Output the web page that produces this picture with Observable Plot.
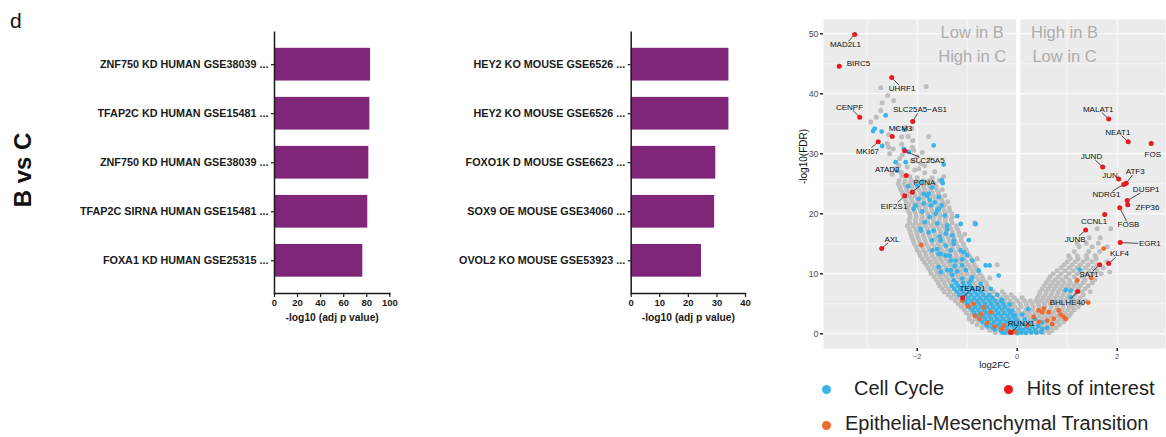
<!DOCTYPE html>
<html>
<head>
<meta charset="utf-8">
<script src="https://cdn.jsdelivr.net/npm/d3@7"></script>
<script src="https://cdn.jsdelivr.net/npm/@observablehq/plot@0.6"></script>
<style>
  body { margin: 0; background: #fff; font-family: "Liberation Sans", Arial, sans-serif; }
  #fig { position: relative; width: 1166px; height: 437px; overflow: hidden; background: #fff; }
  #fig > svg, #fig > div { position: absolute; }
  .panel-letter { left: 10px; top: 9.5px; font-size: 21px; line-height: 21px; color: #111; }
  .row-title { left: 23px; top: 169.5px; font-size: 24px; line-height: 24px; font-weight: bold; color: #111;
               transform: translate(-50%, -50%) rotate(-90deg); white-space: nowrap; }
  .key-dot { width: 9px; height: 9px; border-radius: 50%; }
  .key-text { font-size: 20px; line-height: 20px; color: #222; white-space: nowrap; }
</style>
</head>
<body>
<div id="fig"></div>
<script>
// ---------- Enrichment bar charts (B vs C) ----------
const humanSets = [
  "ZNF750 KD HUMAN GSE38039 ...",
  "TFAP2C KD HUMAN GSE15481 ...",
  "ZNF750 KD HUMAN GSE38039 ...",
  "TFAP2C SIRNA HUMAN GSE15481 ...",
  "FOXA1 KD HUMAN GSE25315 ..."
];
const humanScores = [83.3, 82.7, 81.8, 80.9, 76.6];
const humanTicks = [0, 20, 40, 60, 80, 100];

const mouseSets = [
  "HEY2 KO MOUSE GSE6526 ...",
  "HEY2 KO MOUSE GSE6526 ...",
  "FOXO1K D MOUSE GSE6623 ...",
  "SOX9 OE MOUSE GSE34060 ...",
  "OVOL2 KO MOUSE GSE53923 ..."
];
const mouseScores = [34.2, 34.2, 29.6, 29.2, 24.6];
const mouseTicks = [0, 10, 20, 30, 40];

const barTitle = "-log10 (adj p value)";

// ---------- Volcano plot (log2FC vs -log10 FDR) ----------
// Background genes, listed row by row as [-log10 FDR, log2FC, log2FC, ...]
const grayRowsLeft = [
  [0.2, -0.44, -0.32, -0.2, -0.08, 0.04, 0.14],
  [0.6, -0.54, -0.42, -0.3, -0.18, -0.06, 0.06],
  [1.0, -0.7, -0.58, -0.46, -0.34, -0.22, -0.1, 0.02],
  [1.5, -0.8, -0.68, -0.56, -0.44, -0.32, -0.2, -0.08, 0.04],
  [2.0, -0.9, -0.78, -0.66, -0.54, -0.42, -0.3, -0.18, -0.04],
  [2.5, -0.96, -0.84, -0.72, -0.6, -0.48, -0.36, -0.24, -0.1, 0.02],
  [3.0, -0.96, -0.84, -0.72, -0.6, -0.48, -0.36, -0.24, -0.12, 0.0, 0.1],
  [3.5, -1.02, -0.9, -0.78, -0.66, -0.54, -0.42, -0.3, -0.18, -0.06, 0.04, 0.14],
  [4.0, -1.06, -0.94, -0.82, -0.7, -0.58, -0.46, -0.34, -0.22, -0.1, 0.02],
  [4.5, -1.12, -1.0, -0.88, -0.76, -0.64, -0.52, -0.4, -0.28, -0.14, -0.05, 0.08, 0.2],
  [5.0, -1.18, -1.06, -0.94, -0.82, -0.7, -0.58, -0.46, -0.34, -0.2, -0.08, 0.05, 0.18],
  [5.5, -1.24, -1.12, -1.0, -0.88, -0.76, -0.64, -0.52, -0.4, -0.26, -0.14, 0.0, 0.14, 0.26],
  [6.0, -1.32, -1.2, -1.08, -0.96, -0.84, -0.72, -0.6, -0.48, -0.34, -0.2, -0.06, 0.1],
  [6.5, -1.38, -1.26, -1.14, -1.02, -0.9, -0.78, -0.66, -0.54, -0.4, -0.25, -0.12],
  [7.0, -1.46, -1.34, -1.22, -1.1, -0.98, -0.86, -0.74, -0.62, -0.48, -0.3],
  [7.5, -1.5, -1.38, -1.26, -1.14, -1.02, -0.9, -0.78, -0.66, -0.55],
  [8.0, -1.55, -1.43, -1.31, -1.19, -1.07, -0.95, -0.83, -0.71, -0.6],
  [8.5, -1.58, -1.46, -1.34, -1.22, -1.1, -0.98, -0.86, -0.74, -0.62],
  [9.0, -1.62, -1.5, -1.38, -1.26, -1.14, -1.02, -0.9, -0.78, -0.68],
  [9.5, -1.66, -1.54, -1.42, -1.3, -1.18, -1.06, -0.94, -0.82, -0.7],
  [10.0, -1.72, -1.6, -1.48, -1.36, -1.24, -1.12, -1.0, -0.88, -0.75],
  [10.5, -1.74, -1.62, -1.5, -1.38, -1.26, -1.14, -1.02, -0.9, -0.8],
  [11.0, -1.78, -1.66, -1.54, -1.42, -1.3, -1.18, -1.06, -0.94, -0.82],
  [11.5, -1.82, -1.7, -1.58, -1.46, -1.34, -1.22, -1.1, -0.98, -0.86, -0.4],
  [12.0, -1.86, -1.74, -1.62, -1.5, -1.38, -1.26, -1.14, -1.02, -0.88],
  [12.5, -1.9, -1.78, -1.66, -1.54, -1.42, -1.3, -1.18, -1.06, -0.92, -0.8],
  [13.0, -1.94, -1.82, -1.7, -1.58, -1.46, -1.34, -1.22, -1.1, -0.96],
  [13.5, -1.96, -1.84, -1.72, -1.6, -1.48, -1.36, -1.24, -1.12, -1.0],
  [14.0, -2.0, -1.88, -1.76, -1.64, -1.52, -1.4, -1.28, -1.16, -1.02],
  [14.5, -2.02, -1.9, -1.78, -1.66, -1.54, -1.42, -1.3, -1.18, -1.06],
  [15.0, -2.06, -1.94, -1.82, -1.7, -1.58, -1.46, -1.34, -1.22, -1.08],
  [15.5, -2.08, -1.96, -1.84, -1.72, -1.6, -1.48, -1.36, -1.24, -1.12],
  [16.0, -2.1, -1.98, -1.86, -1.74, -1.62, -1.5, -1.38, -1.26, -1.12],
  [16.5, -2.12, -2.0, -1.88, -1.76, -1.64, -1.52, -1.4, -1.28, -1.16],
  [17.0, -2.14, -2.02, -1.9, -1.78, -1.66, -1.54, -1.42, -1.3, -1.17],
  [17.5, -2.16, -2.04, -1.92, -1.8, -1.68, -1.56, -1.44, -1.32, -1.2],
  [18.0, -2.2, -2.08, -1.96, -1.84, -1.72, -1.6, -1.48, -1.36, -1.22],
  [18.5, -2.15, -2.03, -1.91, -1.79, -1.67, -1.55, -1.43, -1.3, -0.85],
  [19.0, -2.16, -2.04, -1.92, -1.8, -1.68, -1.56, -1.44, -1.32],
  [19.5, -2.14, -2.02, -1.9, -1.78, -1.66, -1.54, -1.42, -1.3],
  [20.0, -2.15, -2.03, -1.91, -1.79, -1.67, -1.55, -1.43, -1.31],
  [20.5, -2.18, -2.06, -1.94, -1.82, -1.7, -1.58, -1.46, -1.35],
  [21.0, -2.2, -2.08, -1.96, -1.84, -1.72, -1.6, -1.48, -1.36],
  [21.5, -2.17, -2.05, -1.93, -1.81, -1.69, -1.57, -1.45],
  [22.0, -2.22, -2.1, -1.98, -1.86, -1.74, -1.62, -1.5, -1.39],
  [22.5, -2.24, -2.12, -2.0, -1.88, -1.76, -1.64, -1.52],
  [23.0, -2.28, -2.16, -2.04, -1.92, -1.8, -1.68, -1.56, -1.45],
  [23.5, -2.3, -2.18, -2.06, -1.94, -1.82, -1.7, -1.58],
  [24.0, -2.33, -2.21, -2.09, -1.97, -1.85, -1.73, -1.61, -1.5],
  [24.5, -2.35, -2.23, -2.11, -1.99, -1.87, -1.75, -1.62],
  [25.0, -2.38, -2.26, -2.14, -2.02, -1.9, -1.78, -1.66],
  [25.5, -2.36, -2.24, -2.12, -2.0, -1.88, -1.76, -1.56]
];
const grayUpperLeft = [
  [-2.73, 41.0], [-1.82, 41.2], [-2.59, 39.7], [-2.7, 38.5], [-2.47, 38.9], [-2.73, 37.2],
  [-2.82, 36.1], [-2.93, 35.3], [-2.23, 34.4], [-2.11, 34.2], [-2.4, 34.2], [-2.57, 33.2],
  [-2.31, 32.8], [-2.18, 32.9], [-1.77, 32.9], [-2.09, 32.2], [-2.6, 31.7], [-2.31, 31.6],
  [-2.48, 30.8], [-2.1, 31.1], [-2.57, 31.1], [-2.07, 30.6], [-1.9, 30.2], [-2.55, 30.0],
  [-2.3, 29.8], [-2.0, 29.5], [-1.75, 29.0], [-2.1, 28.8], [-2.35, 29.2], [-1.93, 28.4],
  [-2.37, 28.05], [-1.85, 28.0], [-2.2, 27.8], [-1.97, 27.5], [-2.45, 27.5], [-2.05, 27.3],
  [-1.65, 27.0], [-2.32, 26.9], [-1.85, 26.8], [-2.5, 26.6], [-1.47, 26.2], [-2.15, 26.2],
  [-2.3, 26.3], [-1.7, 26.0], [-2.0, 26.0]
];
const grayRowsRight = [
  [0.2, 0.16, 0.28, 0.4, 0.52, 0.64],
  [0.6, 0.1, 0.22, 0.34, 0.46, 0.58, 0.7],
  [1.0, 0.06, 0.18, 0.3, 0.42, 0.54, 0.66, 0.78],
  [1.5, 0.12, 0.24, 0.36, 0.48, 0.6, 0.72, 0.84],
  [2.0, 0.08, 0.2, 0.32, 0.44, 0.56, 0.68, 0.8, 0.93],
  [2.5, 0.14, 0.26, 0.38, 0.5, 0.62, 0.74, 0.86, 0.98],
  [3.0, 0.2, 0.32, 0.44, 0.56, 0.68, 0.8, 0.92, 1.04],
  [3.5, 0.24, 0.36, 0.48, 0.6, 0.72, 0.84, 0.96, 1.08],
  [4.0, 0.18, 0.3, 0.42, 0.54, 0.66, 0.78, 0.9, 1.02, 1.14],
  [4.5, 0.32, 0.44, 0.56, 0.68, 0.8, 0.92, 1.04, 1.1, 1.22],
  [5.0, 0.3, 0.42, 0.54, 0.66, 0.78, 0.9, 1.02, 1.14, 1.28],
  [5.5, 0.38, 0.48, 0.6, 0.72, 0.84, 0.96, 1.08, 1.2, 1.36],
  [6.0, 0.4, 0.52, 0.64, 0.76, 0.88, 1.0, 1.12, 1.26],
  [6.5, 0.44, 0.56, 0.68, 0.8, 0.92, 1.04, 1.16, 1.32],
  [7.0, 0.46, 0.58, 0.7, 0.82, 0.94, 1.06, 1.18, 1.3, 1.46],
  [7.5, 0.5, 0.62, 0.74, 0.86, 0.98, 1.1, 1.22, 1.36],
  [8.0, 0.54, 0.66, 0.78, 0.9, 1.02, 1.14, 1.26, 1.42],
  [8.5, 0.58, 0.7, 0.82, 0.94, 1.06, 1.18, 1.32, 1.5],
  [9.0, 0.62, 0.76, 0.9, 1.04, 1.2, 1.36, 1.55],
  [9.5, 0.66, 0.82, 0.98, 1.14, 1.3, 1.46],
  [10.0, 0.72, 0.88, 1.04, 1.2, 1.36, 1.52, 1.68],
  [10.5, 0.8, 0.96, 1.12, 1.28, 1.44, 1.6],
  [11.0, 0.88, 1.04, 1.2, 1.36, 1.52, 1.72],
  [11.5, 0.94, 1.1, 1.26, 1.42, 1.6],
  [12.0, 1.0, 1.16, 1.32, 1.5, 1.8],
  [12.5, 1.06, 1.22, 1.4, 1.58],
  [13.0, 1.03, 1.2, 1.38, 1.56],
  [13.7, 1.14, 1.43, 1.65],
  [14.5, 1.24, 1.5, 1.8],
  [15.1, 1.2, 1.38, 1.62],
  [16.0, 1.44, 1.66],
  [17.5, 1.6, 1.87]
];
const grayOutliers = [[-0.8, 12.5], [-0.85, 18.3], [-0.55, 9.3], [-1.05, 16.6], [1.85, 10.3]];

// Cell-cycle genes: dense block in the lower left arm, listed row by row, then scattered genes
const cellCycleRows = [
  [1.5, -0.62, -0.5, -0.38, -0.26, -0.14, -0.02],
  [2.0, -0.7, -0.58, -0.46, -0.34, -0.22, -0.1],
  [2.5, -0.76, -0.64, -0.52, -0.4, -0.28, -0.16, -0.04],
  [3.0, -0.8, -0.68, -0.56, -0.44, -0.32, -0.2, -0.08],
  [3.5, -0.86, -0.74, -0.62, -0.5, -0.38, -0.26, -0.14],
  [4.0, -0.9, -0.78, -0.66, -0.54, -0.42, -0.3, -0.18],
  [4.5, -0.96, -0.84, -0.72, -0.6, -0.48, -0.36, -0.24],
  [5.0, -1.0, -0.88, -0.76, -0.64, -0.52, -0.4, -0.28],
  [5.5, -1.04, -0.92, -0.8, -0.68, -0.56, -0.44, -0.32],
  [6.0, -1.1, -0.98, -0.86, -0.74, -0.62, -0.5],
  [6.5, -1.16, -1.04, -0.92, -0.8, -0.68, -0.56],
  [7.0, -1.2, -1.08, -0.96, -0.84, -0.72],
  [7.5, -1.26, -1.14, -1.02, -0.9, -0.78],
  [8.0, -1.3, -1.18, -1.06, -0.94],
  [8.5, -1.22, -1.08, -0.96]
];
const cellCycle = [
  [-2.63, 36.4], [-2.88, 33.8], [-2.85, 34.2], [-2.71, 33.7], [-2.25, 34.0], [-1.67, 31.4],
  [-2.7, 31.3], [-2.27, 30.8], [-2.17, 30.3], [-2.43, 28.6], [-2.23, 28.6], [-1.47, 28.2],
  [-2.4, 27.2], [-1.49, 25.1], [-2.18, 24.6], [-2.0, 24.7], [-1.7, 24.4], [-1.9, 25.3],
  [-1.51, 25.6], [-1.87, 23.3], [-2.1, 23.6], [-1.8, 23.0], [-1.97, 22.5], [-1.75, 22.3],
  [-1.77, 23.3], [-1.57, 22.8], [-2.03, 21.4], [-1.73, 21.4], [-1.57, 20.8], [-1.63, 20.0],
  [-1.87, 21.7], [-1.51, 21.4], [-1.65, 21.9], [-1.6, 20.6], [-1.9, 20.4], [-2.07, 20.8],
  [-1.75, 19.5], [-1.45, 19.7], [-1.2, 19.6], [-1.6, 18.4], [-1.85, 18.6], [-1.13, 18.3],
  [-1.4, 18.05], [-1.93, 17.5], [-1.77, 16.9], [-1.43, 16.7], [-1.53, 15.55], [-1.27, 15.55],
  [-0.83, 18.3], [-1.7, 13.9], [-1.57, 13.3], [-1.43, 13.05], [-1.33, 13.9], [-1.23, 12.2],
  [-1.07, 13.6], [-1.0, 13.1], [-1.1, 11.4], [-0.9, 12.2], [-1.33, 10.55], [-0.77, 10.55],
  [-0.63, 11.4], [-1.53, 10.3], [-0.93, 8.9],
  [-1.67, 17.2], [-1.4, 17.4], [-1.93, 17.2], [-1.55, 16.2], [-1.3, 16.4], [-1.7, 15.6],
  [-0.97, 15.6], [-1.43, 14.7], [-1.27, 15.0], [-1.13, 13.9], [-1.6, 14.1], [-1.53, 13.3],
  [-1.35, 13.0], [-1.33, 12.2], [-1.1, 12.4], [-1.57, 11.1], [-1.25, 11.3], [-0.55, 11.4],
  [-1.4, 10.6], [-1.2, 10.4], [-1.03, 10.6], [-0.37, 9.7], [-1.3, 9.8], [-0.9, 9.4],
  [-1.1, 9.2], [-1.27, 8.9], [-0.73, 8.3], [-0.53, 7.5], [-0.4, 6.5], [-0.3, 5.7],
  [-0.15, 4.9], [-0.1, 3.8], [-0.05, 3.1], [0.0, 2.2], [-0.1, 1.7],
  [-0.5, 1.1], [-0.35, 1.1], [-0.2, 1.1], [-0.07, 1.1], [-0.6, 1.3], [-0.45, 0.7],
  [-0.33, 0.6], [-0.2, 0.6], [-0.05, 0.6], [0.05, 0.6], [-0.3, 0.3], [-0.15, 0.2],
  [0.0, 0.1], [-0.25, 0.15], [-0.1, 0.25],
  [0.08, 0.2], [0.18, 0.15], [0.28, 0.25], [0.38, 0.2], [0.48, 0.3], [0.12, 0.6],
  [0.24, 0.7], [0.36, 0.65], [0.5, 0.8], [0.05, 1.0], [0.18, 1.1], [0.3, 1.2],
  [0.42, 1.3], [0.1, 1.6], [0.25, 1.8], [0.5, 1.9], [0.35, 2.5], [0.15, 2.4],
  [0.6, 1.0], [0.02, 0.5], [0.1, 3.2], [0.22, 4.1], [1.07, 6.1], [1.07, 7.2], [0.97, 7.3], [1.25, 10.7]
];

// Epithelial-Mesenchymal Transition genes
const emt = [
  [-1.92, 14.8], [-1.1, 5.5], [-0.98, 4.6], [-0.87, 5.0], [-0.67, 4.4], [-0.53, 3.6],
  [-0.85, 3.0], [-0.75, 2.5], [-0.6, 1.8], [-0.45, 1.2], [-0.27, 1.4], [-0.3, 0.8],
  [-0.15, 0.4], [-0.72, 3.3], [-0.05, 0.3],
  [0.53, 4.2], [0.63, 3.6], [0.83, 3.9], [0.97, 2.5], [0.87, 3.2], [0.73, 2.5],
  [0.6, 2.2], [0.43, 2.0], [0.43, 3.9], [1.2, 8.9], [1.42, 5.2], [1.73, 14.2], [1.48, 9.3],
  [0.5, 3.6], [0.33, 2.8], [0.7, 1.6], [0.93, 2.8], [0.2, 1.4]
];

// Hits of interest
const hitGenes = ["MAD2L1", "BIRC5", "UHRF1", "CENPF", "SLC25A5\u2212AS1", "MCM3", "MKI67", "SLC25A5",
  "ATAD2", "PCNA", "EIF2S1", "AXL", "TEAD1", "RUNX1", "MALAT1", "NEAT1", "FOS", "JUND", "JUN",
  "ATF3", "NDRG1", "DUSP1", "ZFP36", "FOSB", "CCNL1", "JUNB", "EGR1", "KLF4", "SAT1", "BHLHE40"];
const hitLog2FC = [-3.25, -3.56, -2.51, -3.15, -2.09, -2.50, -2.78, -2.25, -2.22, -2.10, -2.25, -2.71,
  -1.09, -0.13, 1.83, 2.22, 2.68, 1.71, 2.03, 2.18, 2.13, 2.20, 2.21, 2.05, 1.75, 1.37, 2.06, 1.83, 1.65, 1.21];
const hitFDR = [49.9, 44.6, 42.7, 36.1, 35.4, 32.9, 32.0, 30.5, 26.4, 23.6, 23.0, 14.2,
  6.0, 0.2, 35.8, 32.0, 31.7, 27.8, 25.8, 25.1, 24.9, 22.2, 21.5, 21.0, 19.9, 17.3, 15.2, 11.7, 11.5, 7.05];
// Where each gene name sits (repelled label position, in data units)
const hitLabelAt = [[-3.434, 48.17], [-3.174, 45.1], [-2.304, 40.93], [-3.354, 37.77], [-1.944, 37.33],
  [-2.334, 34.27], [-2.994, 30.43], [-1.794, 28.88], [-2.6, 27.33], [-1.858, 25.27], [-2.464, 21.27],
  [-2.504, 15.77], [-0.894, 7.6], [0.08, 1.77], [1.62, 37.43], [2.012, 33.6], [2.712, 29.93],
  [1.486, 29.55], [1.856, 26.38], [2.36, 27.05], [1.786, 23.17], [2.58, 24.05], [2.606, 21.0],
  [2.226, 18.17], [1.536, 18.72], [1.16, 15.72], [2.652, 15.0], [2.046, 13.33], [1.436, 9.83], [1.006, 5.27]];

const sideNotes = ["Low in B", "High in C", "High in B", "Low in C"];
const sideNoteAt = [[-0.9, 50.13], [-0.9, 46.13], [0.946, 50.13], [0.946, 46.13]];

const keyNames = ["Cell Cycle", "Hits of interest", "Epithelial-Mesenchymal Transition"];

// ---------- colours ----------
const PURPLE = "#7F2679";
const GREY = "#BEBEBE";
const BLUE = "#3AB4E8";
const ORANGE = "#EC6B2D";
const RED = "#E8191F";
const INK = "#1a1a1a";

const fig = document.getElementById("fig");

function barChart(labels, scores, ticks, left, width, marginLeft, marginRight) {
  const rows = scores.map((v, i) => ({i, v}));
  const svg = Plot.plot({
    width, height: 340,
    marginLeft, marginRight, marginTop: 31.5, marginBottom: 47,
    style: {fontFamily: "Liberation Sans, Arial, sans-serif", color: INK, background: "transparent", overflow: "visible"},
    x: {domain: [ticks[0], ticks[ticks.length - 1]], axis: null},
    y: {type: "band", domain: d3.range(labels.length), padding: 0.333, round: false, axis: null},
    marks: [
      Plot.barX(rows, {x: "v", y: "i", fill: PURPLE}),
      Plot.ruleX([ticks[0]], {stroke: INK, strokeWidth: 1.5}),
      Plot.frame({anchor: "bottom", stroke: INK, strokeWidth: 1.5}),
      Plot.axisY({tickSize: 3, tickPadding: 3, tickFormat: i => labels[i], fontSize: 10.8, fontWeight: "bold",
                  stroke: INK, strokeWidth: 1.2, label: null}),
      Plot.axisX({ticks, tickSize: 4, tickPadding: 2, fontSize: 9.5, fontWeight: "bold",
                  stroke: INK, strokeWidth: 1.2, label: null}),
      Plot.text([barTitle], {frameAnchor: "bottom", dy: 27, fontSize: 10.3, fontWeight: "bold", fill: INK})
    ]
  });
  svg.style.left = left + "px";
  svg.style.top = "0px";
  fig.appendChild(svg);
}

barChart(humanSets, humanScores, humanTicks, 0, 400, 274, 10.7);
barChart(mouseSets, mouseScores, mouseTicks, 420, 340, 210.7, 15);

// ---------- volcano ----------
const VW = 386, VH = 375, VML = 43, VMR = 1, VMT = 19, VMB = 27;
const xDom = [-3.874, 2.966], yDom = [-2.45, 52.38];
const kx = (VW - VML - VMR) / (xDom[1] - xDom[0]);
const ky = (VH - VMT - VMB) / (yDom[1] - yDom[0]);

const toPts = rows => rows.flatMap(([y, ...xs]) => xs.map(x => ({x, y})));
const pairs = list => list.map(([x, y]) => ({x, y}));
const grayPts = [...toPts(grayRowsLeft), ...toPts(grayRowsRight), ...pairs(grayUpperLeft), ...pairs(grayOutliers)];
const bluePts = [...toPts(cellCycleRows), ...pairs(cellCycle)];
const orangePts = pairs(emt);
const hits = hitGenes.map((g, i) => ({g, x: hitLog2FC[i], y: hitFDR[i], lx: hitLabelAt[i][0], ly: hitLabelAt[i][1]}));

// leader lines run from the point to the edge of its label box
const leaders = hits.flatMap(h => {
  const dx = (h.lx - h.x) * kx, dy = (h.ly - h.y) * ky;
  const hw = h.g.length * 2.6 + 1, hh = 3.5;
  const t = Math.max(1 - hw / Math.max(Math.abs(dx), 1e-6), 1 - hh / Math.max(Math.abs(dy), 1e-6), 0);
  const len = t * Math.hypot(dx, dy);
  return len > 8 ? [{x1: h.x, y1: h.y, x2: h.x + t * (h.lx - h.x), y2: h.y + t * (h.ly - h.y)}] : [];
});
const notes = sideNotes.map((t, i) => ({t, x: sideNoteAt[i][0], y: sideNoteAt[i][1]}));

const volcano = Plot.plot({
  width: VW, height: VH,
  marginLeft: VML, marginRight: VMR, marginTop: VMT, marginBottom: VMB,
  style: {fontFamily: "Liberation Sans, Arial, sans-serif", color: "#4D4D4D", background: "transparent", overflow: "visible"},
  x: {domain: xDom, axis: null},
  y: {domain: yDom, axis: null},
  marks: [
    Plot.frame({fill: "#EBEBEB"}),
    Plot.ruleX([-3, -1, 1], {stroke: "white", strokeWidth: 0.55}),
    Plot.ruleY([5, 15, 25, 35, 45], {stroke: "white", strokeWidth: 0.55}),
    Plot.ruleX([-2, 0, 2], {stroke: "white", strokeWidth: 1.1}),
    Plot.ruleY([0, 10, 20, 30, 40, 50], {stroke: "white", strokeWidth: 1.1}),
    Plot.ruleX([0.022], {y1: 6.9, y2: yDom[1], stroke: "white", strokeWidth: 4.3}),
    Plot.text(notes, {x: "x", y: "y", text: "t", fontSize: 16.5, fill: "#ADADAD"}),
    Plot.dot(grayPts, {x: "x", y: "y", r: 2.5, fill: GREY}),
    Plot.dot(bluePts, {x: "x", y: "y", r: 2.4, fill: BLUE}),
    Plot.dot(orangePts, {x: "x", y: "y", r: 2.4, fill: ORANGE}),
    Plot.link(leaders, {x1: "x1", y1: "y1", x2: "x2", y2: "y2", stroke: "#111", strokeWidth: 0.75}),
    Plot.dot(hits, {x: "x", y: "y", r: 2.5, fill: RED}),
    Plot.text(hits, {x: "lx", y: "ly", text: "g", fontSize: 8, fill: "#111"}),
    Plot.axisY({ticks: [0, 10, 20, 30, 40, 50], tickSize: 3, tickPadding: 2, fontSize: 8.8,
                stroke: "#333", strokeWidth: 1.6, label: null}),
    Plot.axisX({ticks: [-2, 0, 2], tickFormat: "d", tickSize: 3, tickPadding: 2, fontSize: 7.5,
                stroke: "#333", strokeWidth: 1.6, label: null}),
    Plot.text(["log2FC"], {frameAnchor: "bottom", dy: 19, fontSize: 9.5, fill: "#111"}),
    Plot.text(["-log10(FDR)"], {frameAnchor: "left", dx: -20, rotate: -90, fontSize: 10, fill: "#111"})
  ]
});
volcano.style.left = "780px";
volcano.style.top = "0px";
fig.appendChild(volcano);

// ---------- key below the volcano ----------
const keyColors = [BLUE, RED, ORANGE];
const keyLayout = [
  {dot: [826.7, 389.3], text: [854, 395]},
  {dot: [1008, 389.3], text: [1026.7, 395]},
  {dot: [826.7, 425], text: [845, 430]}
];
keyNames.forEach((name, i) => {
  const L = keyLayout[i];
  const dot = document.createElement("div");
  dot.className = "key-dot";
  dot.style.left = (L.dot[0] - 4.5) + "px";
  dot.style.top = (L.dot[1] - 4.5) + "px";
  dot.style.background = keyColors[i];
  fig.appendChild(dot);
  const txt = document.createElement("div");
  txt.className = "key-text";
  txt.textContent = name;
  txt.style.left = L.text[0] + "px";
  txt.style.top = (L.text[1] - 16.9) + "px";
  fig.appendChild(txt);
});

// ---------- panel letter and row title ----------
const letter = document.createElement("div");
letter.className = "panel-letter";
letter.textContent = "d";
fig.appendChild(letter);
const rowTitle = document.createElement("div");
rowTitle.className = "row-title";
rowTitle.textContent = "B vs C";
fig.appendChild(rowTitle);
</script>
</body>
</html>
